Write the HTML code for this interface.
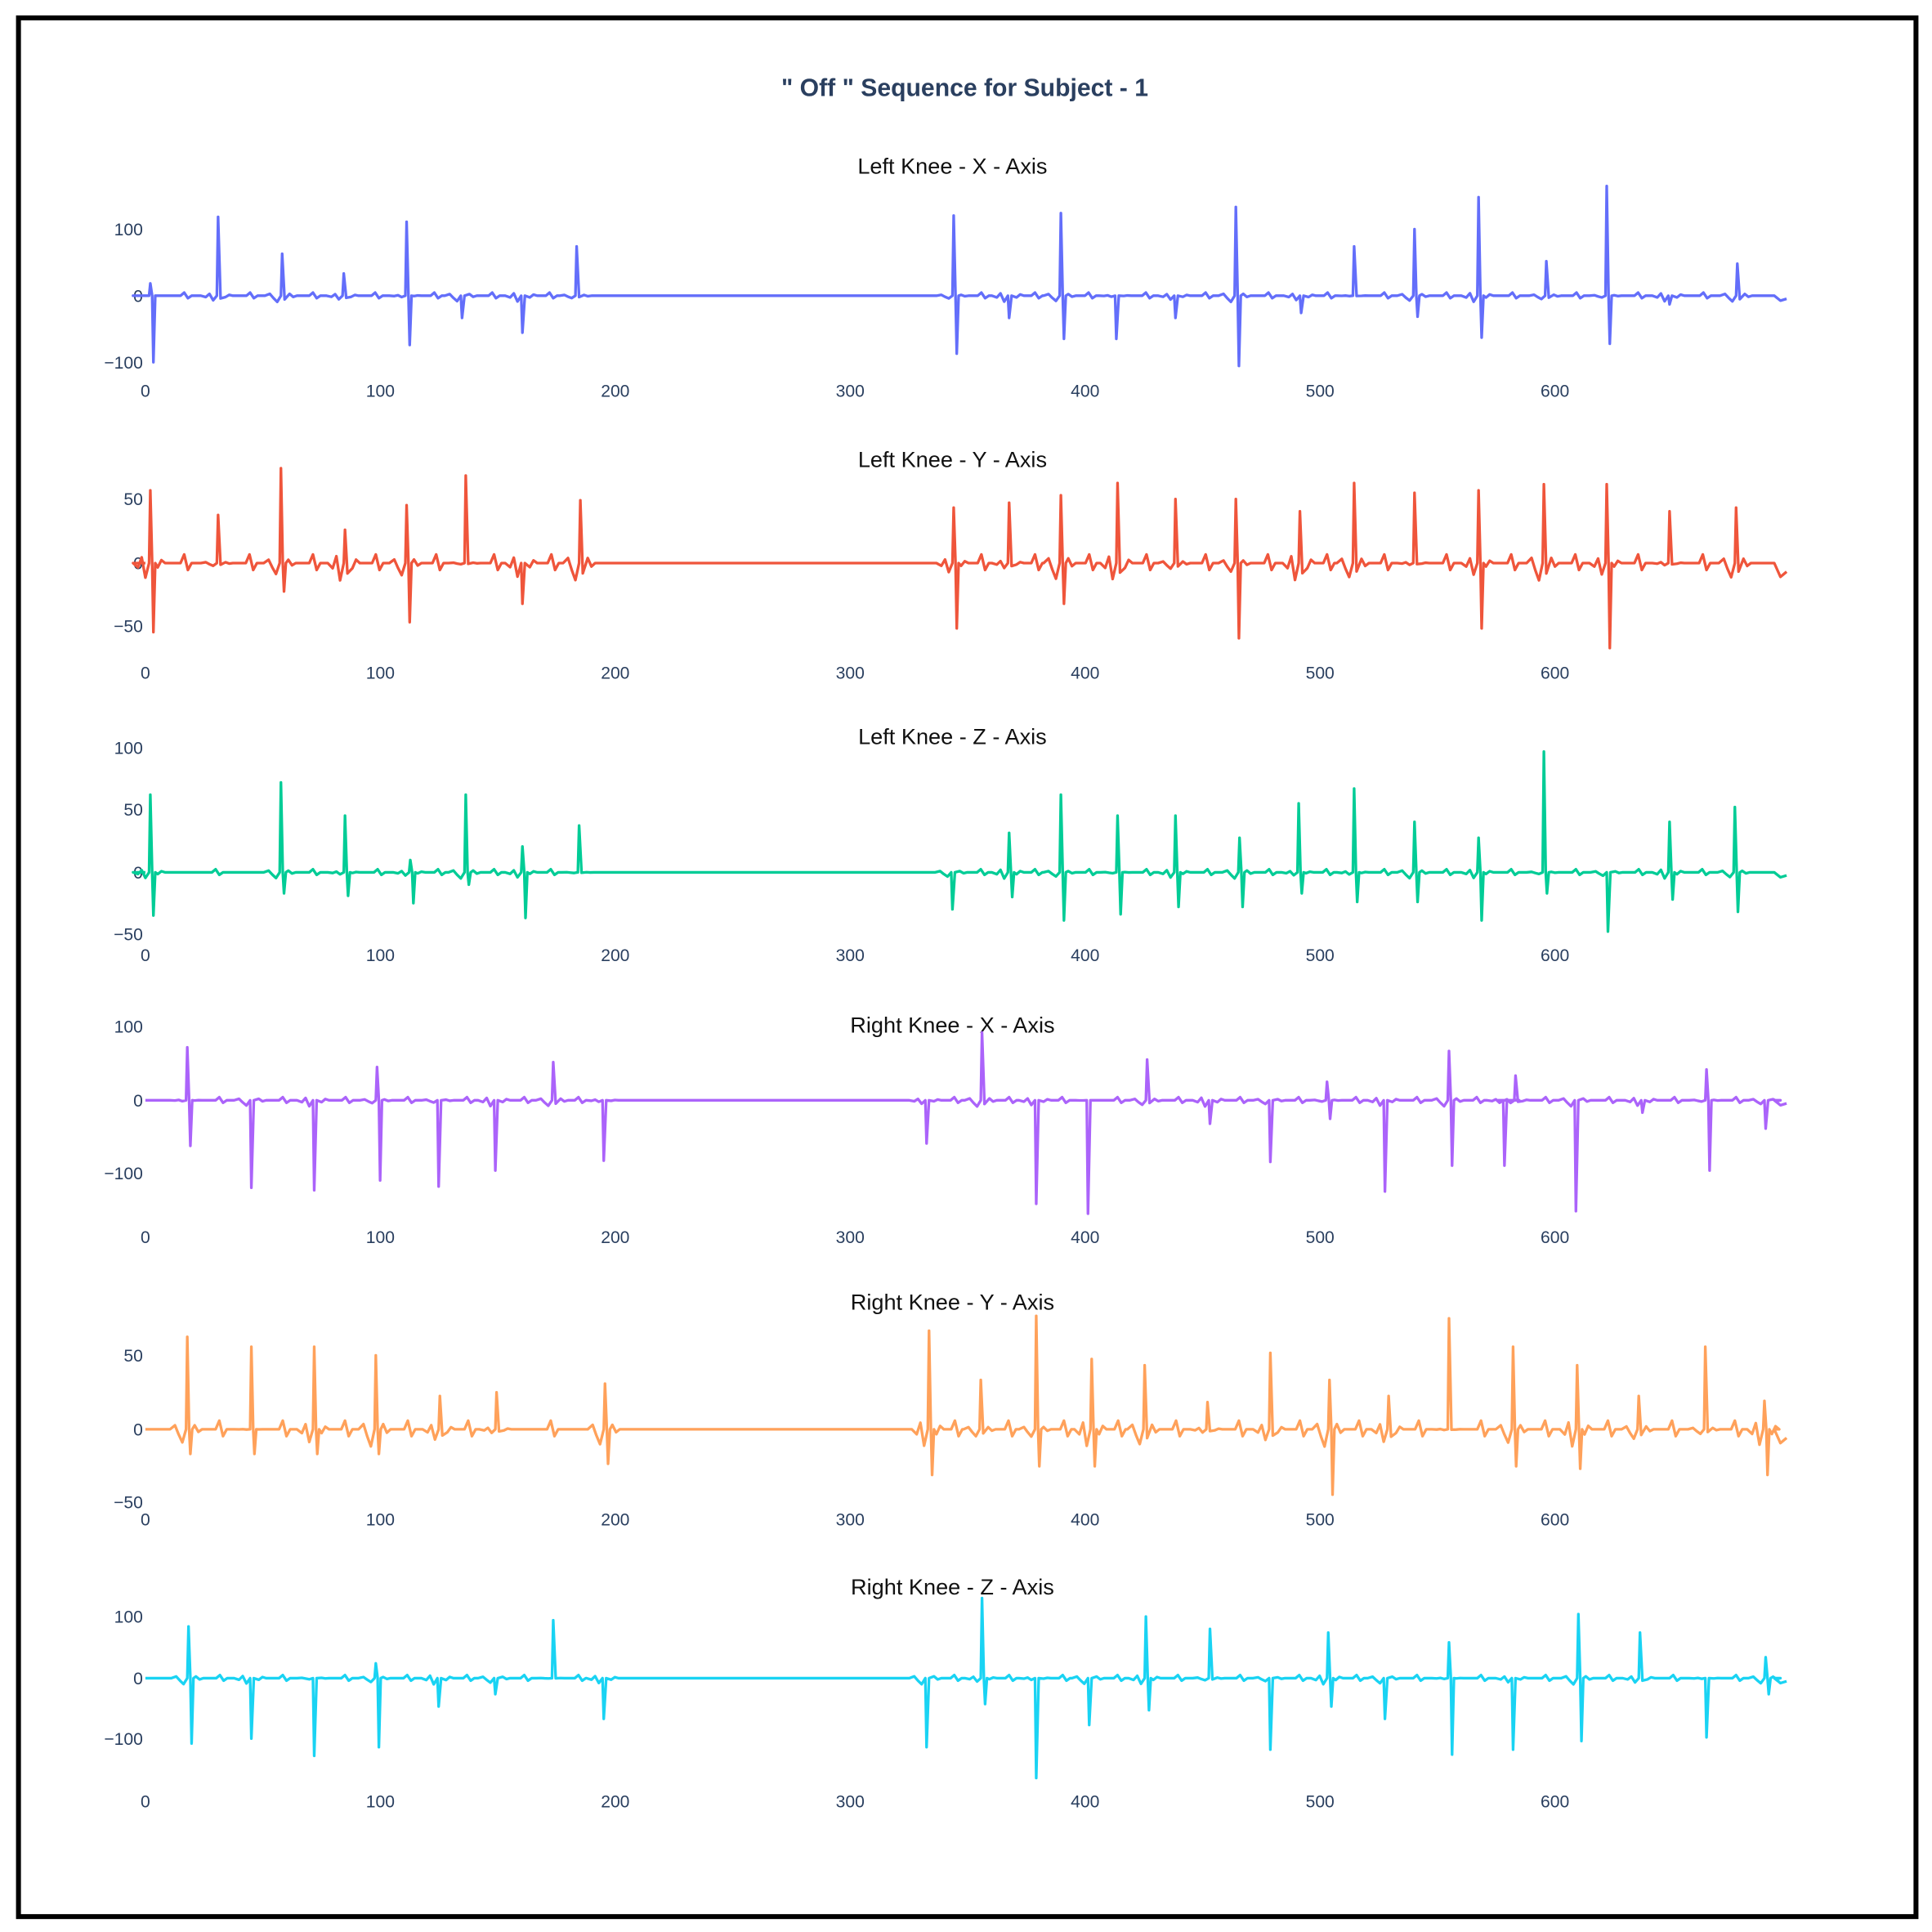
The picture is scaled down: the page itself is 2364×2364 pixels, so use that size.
<!DOCTYPE html>
<html><head><meta charset="utf-8">
<style>
html,body{margin:0;padding:0;background:#fff;}
svg{display:block;}
text{font-family:"Liberation Sans",sans-serif;}
</style></head>
<body>
<svg id="s" width="2364" height="2364" viewBox="0 0 1568 1568" xmlns="http://www.w3.org/2000/svg">
<rect x="0" y="0" width="1568" height="1568" fill="#fff"/>
<rect x="15" y="14.5" width="1540" height="1541" fill="none" stroke="#000" stroke-width="4"/>
<text x="783" y="78" text-anchor="middle" font-size="20" font-weight="bold" fill="#2a3f5f">" Off " Sequence for Subject - 1</text>
<g id="g"></g>
</svg>
<script>
var X0=118, PX=(1262-118)/600;
var panels=[
 {title:"Left Knee - X - Axis",ty:141,z:240,yt:[[186,"100"],[240,"0"],[294,"−100"]],tk:322,c:"#636efa",
  sp:[[122,230,294],[177,176,0],[229,206,0],[279,222,0],[330,180,280],[375,0,258],[424,0,270],[468,200,0],[774,175,287],[819,0,258],[861,173,275],[906,0,275],[954,0,258],[1003,168,297],[1056,0,254],[1099,200,0],[1148,186,257],[1200,160,274],[1255,212,0],[1304,151,279],[1355,0,247],[1410,214,0]]},
 {title:"Left Knee - Y - Axis",ty:379,z:457,yt:[[405,"50"],[457,"0"],[508,"−50"]],tk:551,c:"#EF553B",
  sp:[[122,398,513],[177,418,0],[228,380,480],[280,430,0],[330,410,505],[378,386,0],[424,0,490],[471,406,0],[774,412,510],[819,408,0],[861,402,490],[907,392,0],[954,405,0],[1003,405,518],[1055,415,0],[1099,392,0],[1148,400,0],[1200,398,510],[1253,393,0],[1304,393,526],[1355,415,0],[1409,412,0]]},
 {title:"Left Knee - Z - Axis",ty:604,z:708,yt:[[607,"100"],[657,"50"],[708,"0"],[758,"−50"]],tk:780,c:"#00cc96",
  sp:[[122,645,743],[228,635,725],[280,662,727],[333,698,733],[378,645,718],[424,687,745],[470,670,0],[773,0,738],[819,676,728],[861,645,747],[907,662,742],[954,662,736],[1006,680,736],[1054,652,725],[1099,640,732],[1148,667,732],[1200,680,747],[1253,610,725],[1305,0,756],[1355,667,730],[1408,655,740]]},
 {title:"Right Knee - X - Axis",ty:838,z:893,yt:[[833,"100"],[893,"0"],[952,"−100"]],tk:1009,c:"#ab63fa",
  sp:[[152,850,930],[204,0,964],[255,0,966],[306,866,958],[356,0,963],[402,0,950],[449,862,0],[490,0,942],[752,0,928],[797,838,0],[841,0,977],[883,0,985],[931,860,0],[982,0,912],[1031,0,943],[1077,878,908],[1124,0,967],[1176,853,946],[1221,0,946],[1230,873,0],[1279,0,983],[1333,0,903],[1385,868,950],[1433,0,916]]},
 {title:"Right Knee - Y - Axis",ty:1063,z:1160,yt:[[1100,"50"],[1160,"0"],[1219,"−50"]],tk:1238,c:"#FFA15A",
  sp:[[152,1085,1180],[204,1093,1180],[255,1093,1180],[305,1100,1180],[357,1133,0],[403,1130,0],[491,1123,1188],[754,1080,1197],[796,1120,0],[841,1068,1190],[886,1103,1190],[929,1108,0],[980,1138,0],[1031,1098,0],[1079,1120,1213],[1127,1133,0],[1176,1070,0],[1228,1093,1190],[1280,1108,1192],[1330,1133,0],[1384,1093,0],[1432,1137,1197]]},
 {title:"Right Knee - Z - Axis",ty:1294,z:1362,yt:[[1312,"100"],[1362,"0"],[1411,"−100"]],tk:1467,c:"#19d3f3",
  sp:[[153,1320,1415],[204,0,1411],[255,0,1425],[305,1350,1418],[356,0,1385],[402,0,1375],[449,1315,0],[490,0,1395],[752,0,1418],[797,1297,1383],[841,0,1443],[884,0,1400],[930,1312,1388],[982,1322,0],[1031,0,1420],[1078,1325,1385],[1124,0,1395],[1176,1333,1424],[1228,0,1420],[1281,1310,1413],[1331,1325,0],[1385,0,1410],[1433,1345,1375]]}
];
var h="";
panels.forEach(function(p,pi){
  h+='<text x="773" y="'+p.ty+'" text-anchor="middle" font-size="18" fill="#111">'+p.title+'</text>';
  p.yt.forEach(function(t){h+='<text x="116" y="'+(t[0]+5)+'" text-anchor="end" font-size="14" fill="#2a3f5f">'+t[1]+'</text>';});
  for(var v=0;v<=600;v+=100){h+='<text x="'+(X0+v*PX)+'" y="'+p.tk+'" text-anchor="middle" font-size="14" fill="#2a3f5f">'+v+'</text>';}
  var z=p.z, pts=[[118,z]];
  var sp=p.sp.slice().sort(function(a,b){return a[0]-b[0];});
  var amp=(pi==1||pi==4)?14:5;
  sp.forEach(function(s,i){
    var x=s[0];
    var w=Math.sin(i*2.3+pi)*amp;
    pts.push([x-14,z],[x-10,z+w*0.3],[x-7,z-w*0.4],[x-4,z+Math.abs(w)]);
    if(s[1]&&s[2]){pts.push([x-1,z],[x,s[1]],[x+1.5,z],[x+2.5,s[2]],[x+4,z]);}
    else if(s[1]){pts.push([x-1,z],[x,s[1]],[x+2,z+Math.abs(w)*0.6]);}
    else{pts.push([x-1,z],[x,s[2]],[x+2,z]);}
    pts.push([x+6,z+w*0.3],[x+9,z-w*0.2],[x+12,z]);
    if(i<sp.length-1){var nx=sp[i+1][0];if(nx-x>40&&!(x<500&&nx>700)){var m=(x+nx)/2;pts.push([m-3,z],[m,z-amp*0.5],[m+3,z+amp*0.4],[m+6,z]);}}
  });
  pts.push([1440,z],[1445,z+amp*0.8],[1450,z+amp*0.5]);
  var d="M"+pts.map(function(q){return q[0].toFixed(1)+","+q[1].toFixed(1);}).join("L");
  h+='<path d="'+d+'" fill="none" stroke="'+p.c+'" stroke-width="2.2" stroke-linejoin="round"/>';
});
document.getElementById("g").innerHTML=h;
</script>
</body></html>
